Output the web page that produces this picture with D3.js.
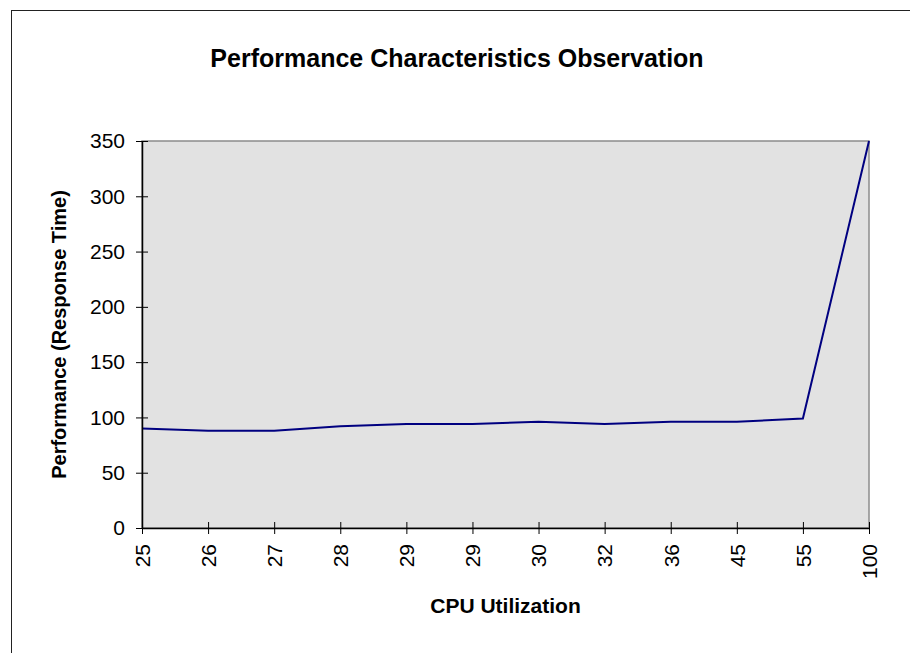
<!DOCTYPE html>
<html>
<head>
<meta charset="utf-8">
<script src="https://cdn.jsdelivr.net/npm/d3@7"></script>
<style>
  body { margin: 0; background: #fff; }
  text { font-family: "Liberation Sans", Arial, sans-serif; }
</style>
</head>
<body>
<div id="chart"></div>
<script>
const cpuLabels = ['25', '26', '27', '28', '29', '29', '30', '32', '36', '45', '55', '100']
const responseTimes = [90, 88, 88, 92, 94, 94, 96, 94, 96, 96, 99, 350]
const yTicks = [0, 50, 100, 150, 200, 250, 300, 350]

const drawSvg = () => {
  const w = 910
  const h = 653
  const left = 142
  const right = 869
  const top = 141
  const bottom = 528

  const svg = d3.select('#chart')
    .append('svg')
    .attr('width', w)
    .attr('height', h)

  // outer chart frame (right/bottom run off the page)
  svg.append('rect')
    .attr('x', 11.5)
    .attr('y', 10.5)
    .attr('width', 1000)
    .attr('height', 1000)
    .attr('fill', 'none')
    .attr('stroke', '#222')

  svg.append('text')
    .attr('x', 457)
    .attr('y', 67)
    .attr('text-anchor', 'middle')
    .style('font-size', '25px')
    .style('font-weight', 'bold')
    .text('Performance Characteristics Observation')

  const xScale = d3.scalePoint()
    .domain(d3.range(cpuLabels.length))
    .range([left, right])

  const yScale = d3.scaleLinear()
    .domain([0, 350])
    .range([bottom, top])

  // plot area
  svg.append('rect')
    .attr('x', left)
    .attr('y', top)
    .attr('width', right - left)
    .attr('height', bottom - top)
    .attr('fill', '#e2e2e2')
    .attr('stroke', '#8c8c8c')
    .attr('stroke-width', 1.5)

  const line = d3.line()
    .x((d, i) => xScale(i))
    .y(d => yScale(d))

  svg.append('path')
    .datum(responseTimes)
    .attr('d', line)
    .attr('fill', 'none')
    .attr('stroke', '#000080')
    .attr('stroke-width', 2)

  const yAxis = d3.axisLeft(yScale)
    .tickValues(yTicks)
    .tickSizeInner(6)
    .tickSizeOuter(0)
    .tickPadding(11)

  const gy = svg.append('g')
    .attr('transform', 'translate(' + left + ',0)')
    .call(yAxis)
  gy.selectAll('.tick line').attr('x2', 6).attr('x1', -6).attr('stroke', '#000')
  gy.select('.domain').attr('stroke', '#000').attr('stroke-width', 1.5)
  gy.selectAll('.tick text')
    .attr('x', -17)
    .style('font-size', '21px')
    .style('font-family', '"Liberation Sans", Arial, sans-serif')
    .attr('fill', '#000')

  const xAxis = d3.axisBottom(xScale)
    .tickFormat(i => cpuLabels[i])
    .tickSizeOuter(0)

  const gx = svg.append('g')
    .attr('transform', 'translate(0,' + bottom + ')')
    .call(xAxis)
  gx.selectAll('.tick line').attr('y1', -6).attr('y2', 6).attr('stroke', '#000')
  gx.select('.domain').attr('stroke', '#000').attr('stroke-width', 1.5)
  gx.selectAll('.tick text')
    .attr('transform', 'rotate(-90)')
    .attr('x', -16)
    .attr('y', 0)
    .attr('dy', '0.35em')
    .attr('text-anchor', 'end')
    .style('font-size', '21px')
    .style('font-family', '"Liberation Sans", Arial, sans-serif')
    .attr('fill', '#000')

  svg.append('text')
    .attr('x', (left + right) / 2)
    .attr('y', 613)
    .attr('text-anchor', 'middle')
    .style('font-size', '21px')
    .style('font-weight', 'bold')
    .text('CPU Utilization')

  svg.append('text')
    .attr('transform', 'translate(66,' + (top + bottom) / 2 + ') rotate(-90)')
    .attr('text-anchor', 'middle')
    .style('font-size', '20px')
    .style('font-weight', 'bold')
    .text('Performance (Response Time)')
}

drawSvg()
</script>
</body>
</html>
